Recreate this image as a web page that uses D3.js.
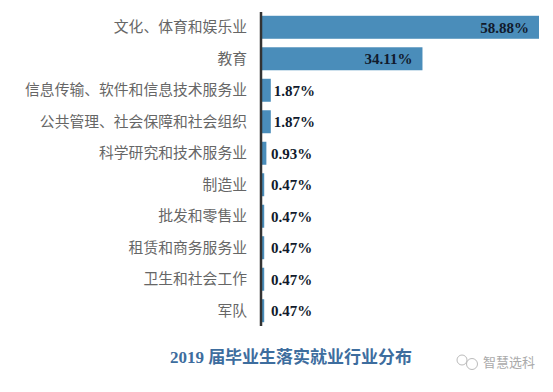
<!DOCTYPE html>
<html>
<head>
<meta charset="utf-8">
<script src="https://cdn.jsdelivr.net/npm/d3@7"></script>
<style>
  body { margin: 0; background: #fff; }
</style>
</head>
<body>
<svg id="chart" width="553" height="392"></svg>
<script>
// 2019 graduates employment by industry
const categories = [
  "文化、体育和娱乐业",
  "教育",
  "信息传输、软件和信息技术服务业",
  "公共管理、社会保障和社会组织",
  "科学研究和技术服务业",
  "制造业",
  "批发和零售业",
  "租赁和商务服务业",
  "卫生和社会工作",
  "军队"
];
const values = [58.88, 34.11, 1.87, 1.87, 0.93, 0.47, 0.47, 0.47, 0.47, 0.47];
const title = "2019 届毕业生落实就业行业分布";
const watermark = "智慧选科";

const svg = d3.select("#chart");
const margin = { top: 12, right: 14, bottom: 66, left: 262 };
const width = +svg.attr("width");
const height = +svg.attr("height");

const x = d3.scaleLinear()
  .domain([0, 58.88])
  .range([margin.left, 539]);

const y = d3.scaleBand()
  .domain(categories)
  .range([margin.top, height - margin.bottom])
  .paddingInner(0.27)
  .paddingOuter(0.12);

const serif = "'Liberation Serif', 'Times New Roman', 'Noto Sans CJK SC', serif";

// bars
svg.append("g")
  .selectAll("rect")
  .data(values)
  .join("rect")
  .attr("x", x(0))
  .attr("y", (d, i) => y(categories[i]))
  .attr("width", (d) => x(d) - x(0))
  .attr("height", y.bandwidth())
  .attr("fill", "#4a8dba");

// value labels - inside for big bars, outside for small ones
svg.append("g")
  .attr("font-family", serif)
  .attr("font-weight", "bold")
  .attr("font-size", 15)
  .attr("fill", "#111a2c")
  .selectAll("text")
  .data(values)
  .join("text")
  .attr("x", (d) => (d > 10 ? x(d) - 10 : Math.max(x(d) + 3, x(0) + 9)))
  .attr("y", (d, i) => y(categories[i]) + y.bandwidth() / 2)
  .attr("dy", "0.36em")
  .attr("text-anchor", (d) => (d > 10 ? "end" : "start"))
  .text((d) => d.toFixed(2) + "%");

// category labels
svg.append("g")
  .attr("font-family", "'Noto Sans CJK SC', serif")
  .attr("font-size", 14.8)
  .attr("fill", "#666")
  .selectAll("text")
  .data(categories)
  .join("text")
  .attr("x", 247)
  .attr("y", (d) => y(d) + y.bandwidth() / 2)
  .attr("dy", "0.35em")
  .attr("text-anchor", "end")
  .text((d) => d);

// axis line
svg.append("line")
  .attr("x1", x(0) - 1)
  .attr("x2", x(0) - 1)
  .attr("y1", margin.top)
  .attr("y2", height - margin.bottom)
  .attr("stroke", "#333")
  .attr("stroke-width", 2.5);

// title
svg.append("text")
  .attr("x", 291)
  .attr("y", 357)
  .attr("dy", "0.35em")
  .attr("text-anchor", "middle")
  .attr("font-family", "'Liberation Serif', 'Noto Sans CJK SC', serif")
  .attr("font-weight", "bold")
  .attr("font-size", 17)
  .attr("fill", "#3d6d9e")
  .text(title);

// watermark
const wm = svg.append("g").attr("fill", "none").attr("stroke", "#bbb");
wm.append("circle").attr("cx", 462).attr("cy", 360).attr("r", 5);
wm.append("circle").attr("cx", 472).attr("cy", 364).attr("r", 5.5);
svg.append("text")
  .attr("x", 483)
  .attr("y", 362)
  .attr("dy", "0.35em")
  .attr("font-family", "'Noto Sans CJK SC', sans-serif")
  .attr("font-size", 13)
  .attr("fill", "#aaa")
  .text(watermark);
</script>
</body>
</html>
